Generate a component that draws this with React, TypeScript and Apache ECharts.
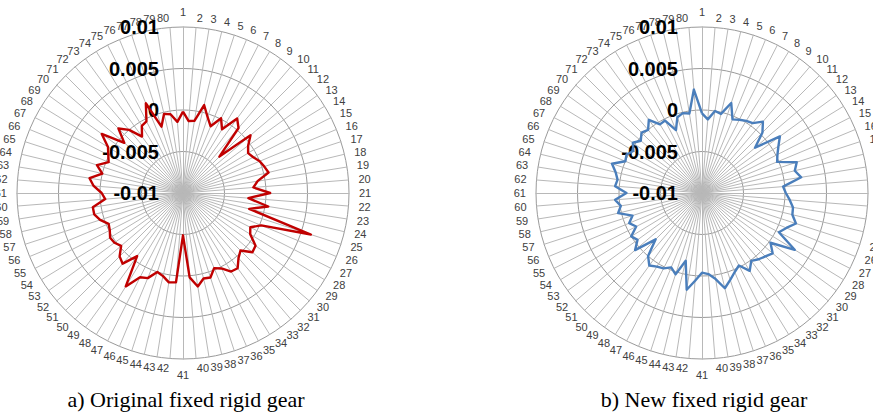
import React, { useEffect, useRef } from 'react';
import * as echarts from 'echarts';

// Spoke (tooth) numbers 1..80, clockwise from the top
const spokeLabels: string[] = Array.from({ length: 80 }, (_, i) => String(i + 1));

// a) Original fixed rigid gear
const originalGear: number[] = [
  -0.0002, -0.0013, -0.0012, 0.0009, -0.0004, -0.0013, 0.0001, -0.0010, 0.0011, 0.0003,
  -0.0038, 0.0007, -0.0003, -0.0008, -0.0005, 0.0000, 0.0003, 0.0006, -0.0009, -0.0015,
  0.0005, -0.0021, 0.0004, -0.0018, 0.0062, 0.0002, -0.0009, -0.0005, 0.0008, 0.0010,
  -0.0002, 0.0003, 0.0012, 0.0011, 0.0002, -0.0002, 0.0007, 0.0006, 0.0014, 0.0002,
  -0.0049, 0.0008, 0.0009, 0.0003, 0.0000, 0.0011, 0.0014, 0.0032, -0.0006, 0.0012,
  0.0008, -0.0002, 0.0002, 0.0003, -0.0001, -0.0003, 0.0005, 0.0010, 0.0010, -0.0006,
  -0.0002, 0.0008, 0.0014, 0.0000, 0.0009, -0.0003, 0.0001, 0.0006, 0.0021, -0.0007,
  0.0010, 0.0000, -0.0016, -0.0005, -0.0003, 0.0017, -0.0016, -0.0002, -0.0004, -0.0014,
];

// b) New fixed rigid gear
const newGear: number[] = [
  -0.0004, -0.0011, 0.0000, -0.0002, 0.0014, -0.0004, -0.0001, 0.0002, 0.0004, 0.0013,
  0.0003, -0.0016, 0.0016, 0.0008, 0.0002, -0.0002, 0.0020, 0.0015, 0.0021, -0.0002,
  0.0001, 0.0006, 0.0011, 0.0012, 0.0019, 0.0010, 0.0004, 0.0031, 0.0002, 0.0012,
  0.0008, 0.0005, 0.0001, 0.0010, -0.0002, 0.0003, 0.0010, 0.0018, 0.0005, -0.0002,
  -0.0004, 0.0006, 0.0018, -0.0016, 0.0003, -0.0003, 0.0002, 0.0004, 0.0008, 0.0000,
  -0.0021, 0.0006, -0.0004, 0.0000, -0.0011, -0.0005, -0.0012, 0.0004, -0.0001, 0.0005,
  -0.0009, 0.0005, 0.0003, 0.0007, 0.0014, 0.0000, 0.0002, -0.0003, 0.0003, -0.0003,
  0.0003, 0.0000, 0.0009, -0.0003, -0.0002, -0.0018, -0.0004, -0.0001, -0.0003, 0.0025,
];

const captions: string[] = ['a) Original fixed rigid gear', 'b) New fixed rigid gear'];
const radialMin = -0.01;
const radialMax = 0.01;
const radialSplits = 4;

// ECharts lays radar indicators counter-clockwise; the source runs clockwise.
const order: number[] = spokeLabels.map((_, k) => (spokeLabels.length - k) % spokeLabels.length);

function makeRadar(cx: number) {
  return {
    center: [cx, 193],
    radius: 166,
    startAngle: 90,
    shape: 'circle',
    splitNumber: radialSplits,
    indicator: order.map((idx, k) => ({
      name: spokeLabels[idx],
      min: radialMin,
      max: radialMax,
      ...(k === 0
        ? {
            axisLabel: {
              show: true,
              margin: 24,
              color: '#000',
              fontSize: 20,
              fontWeight: 'bold',
              fontFamily: 'Liberation Sans',
            },
          }
        : {}),
    })),
    axisName: { color: '#404040', fontSize: 11, fontFamily: 'Liberation Sans' },
    nameGap: 10,
    axisLine: { lineStyle: { color: '#b8b8b8', width: 1 } },
    axisTick: { show: false },
    axisLabel: { show: false },
    splitLine: { lineStyle: { color: '#9a9a9a', width: 1 } },
    splitArea: { show: false },
  };
}

function caption(text: string, x: number) {
  return {
    type: 'text',
    x,
    y: 399.5,
    style: {
      text,
      fontSize: 22,
      fontFamily: 'Liberation Serif',
      fill: '#000',
      align: 'center',
      verticalAlign: 'middle',
    },
  };
}

export default function App() {
  const ref = useRef<HTMLDivElement>(null);
  useEffect(() => {
    if (!ref.current) return;
    const chart = echarts.init(ref.current, null, { renderer: 'svg' });
    chart.setOption({
      animation: false,
      backgroundColor: '#fff',
      radar: [makeRadar(183), makeRadar(702)],
      series: [
        {
          type: 'radar',
          radarIndex: 0,
          symbol: 'none',
          z: 1,
          lineStyle: { color: '#c00000', width: 2.4 },
          data: [{ value: order.map((i) => originalGear[i]) }],
        },
        {
          type: 'radar',
          radarIndex: 1,
          symbol: 'none',
          z: 1,
          lineStyle: { color: '#4a7ebb', width: 2.4 },
          data: [{ value: order.map((i) => newGear[i]) }],
        },
      ],
      graphic: [caption(captions[0], 186), caption(captions[1], 704)],
    });
    return () => chart.dispose();
  }, []);
  return (
    <div
      ref={ref}
      style={{ position: 'absolute', left: 0, top: 0, width: 873, height: 413 }}
    />
  );
}
